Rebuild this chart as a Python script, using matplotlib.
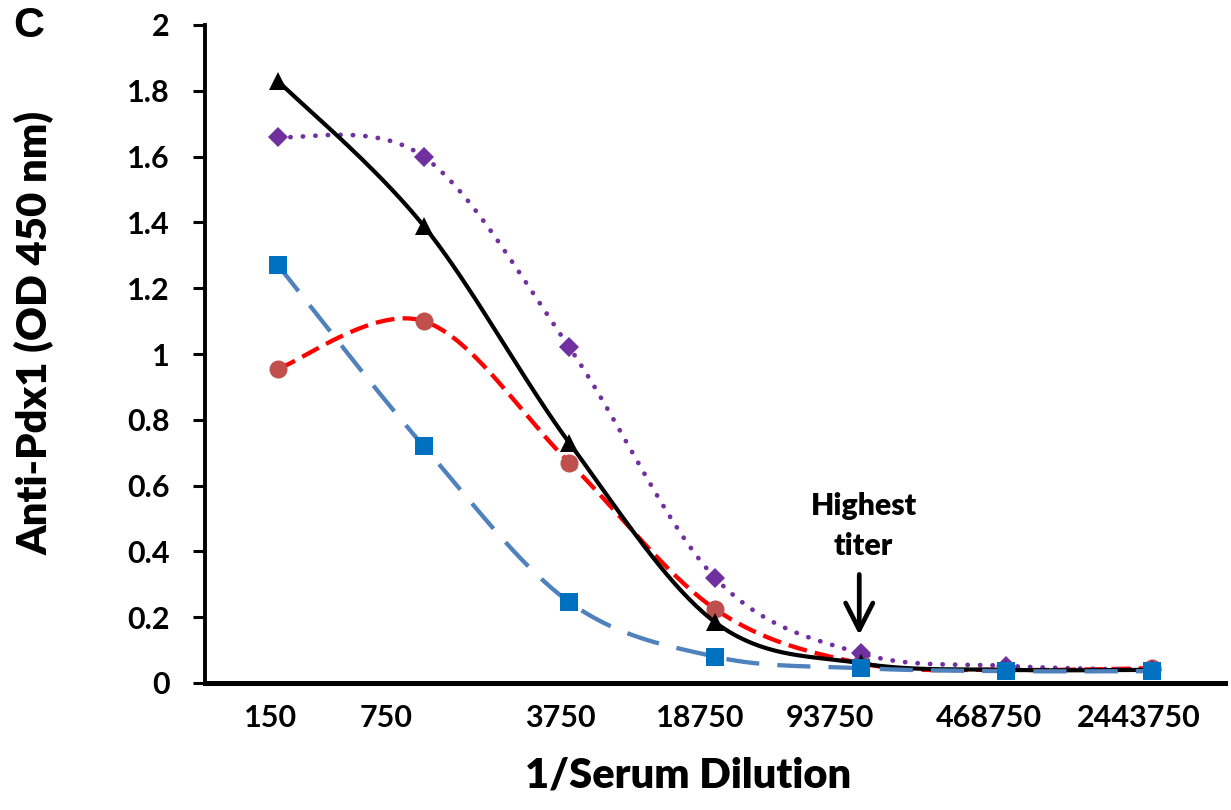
import matplotlib
matplotlib.use('Agg')
import matplotlib.pyplot as plt
import numpy as np

# 数据
dilutions = ["150", "750", "3750", "18750", "93750", "468750", "2443750"]
black_tri = [1.83, 1.39, 0.73, 0.185, 0.06, 0.04, 0.04]
purple_dia = [1.66, 1.60, 1.02, 0.32, 0.09, 0.052, 0.04]
red_circ = [0.955, 1.10, 0.67, 0.225, 0.06, 0.04, 0.045]
blue_sq = [1.27, 0.72, 0.246, 0.08, 0.045, 0.036, 0.036]

# 刻度标签相对数据点的水平偏移 (类别单位, 原图手动放置)
label_offset = [-0.05, -0.26, -0.06, -0.10, -0.21, -0.12, -0.09]


def smooth(xs, ys, n=40):
    # Excel 风格平滑曲线 (Bezier, 控制点 = 邻点差/6)
    p = np.column_stack([xs, ys]).astype(float)
    pts = []
    for i in range(len(p) - 1):
        p0 = p[i - 1] if i > 0 else p[i]
        p1, p2 = p[i], p[i + 1]
        p3 = p[i + 2] if i + 2 < len(p) else p[i + 1]
        c1 = p1 + (p2 - p0) / 6
        c2 = p2 - (p3 - p1) / 6
        t = np.linspace(0, 1, n)[:, None]
        seg = (1-t)**3*p1 + 3*(1-t)**2*t*c1 + 3*(1-t)*t**2*c2 + t**3*p2
        pts.append(seg if i == 0 else seg[1:])
    pts = np.vstack(pts)
    return pts[:, 0], pts[:, 1]


W, H = 1231, 810
x = np.arange(len(dilutions)) + 0.5

fig = plt.figure(figsize=(W/100, H/100), dpi=100)
ax = fig.add_axes([205/W, 127/H, 1020/W, 658/H])

# 绘制顺序: 红, 紫, 黑, 蓝 (蓝色在最上层)
series = [
    (red_circ, "#FF0000", (0, (4.4, 1.9)), "o", "#C0504D", 13, 3.1),
    (purple_dia, "#7030A0", (0, (0.05, 2.6)), "D", "#7030A0", 10.5, 3.4),
    (black_tri, "black", "-", "^", "black", 13.5, 3.0),
    (blue_sq, "#4F81BD", (0, (7.7, 4.2)), "s", "#0070C0", 12.5, 3.1),
]
for ys, lc, ls, mk, mc, ms, lw in series:
    sx, sy = smooth(x, ys)
    ax.plot(sx, sy, color=lc, linestyle=ls, linewidth=lw,
            solid_capstyle='round', dash_capstyle='round' if mk == "D" else 'butt')
    ax.plot(x, ys, linestyle='none', marker=mk, color=mc, markersize=ms,
            markeredgewidth=0)

ax.set_xlim(0, len(dilutions))
ax.set_ylim(0, 2)
ax.set_yticks(np.arange(0, 2.01, 0.2))
ax.set_yticklabels(["0", "0.2", "0.4", "0.6", "0.8", "1", "1.2", "1.4", "1.6", "1.8", "2"])
ax.set_xticks(x + np.array(label_offset))
ax.set_xticklabels(dilutions)
ax.tick_params(axis='y', direction='out', length=8.6, width=2.2, labelsize=22, pad=17)
ax.tick_params(axis='x', length=0, labelsize=22, pad=15)
for lbl in ax.get_xticklabels() + ax.get_yticklabels():
    lbl.set_fontweight('bold')
    lbl.set_family('Lato')

ax.spines['top'].set_visible(False)
ax.spines['right'].set_visible(False)
ax.spines['left'].set_linewidth(2.8)
ax.spines['bottom'].set_linewidth(3.6)

renderer = fig.canvas.get_renderer()


def fit(t, target, vertical=False):
    # 按目标像素长度调整字号
    bb = t.get_window_extent(renderer)
    size = bb.height if vertical else bb.width
    t.set_fontsize(t.get_fontsize() * target / size)


xl = fig.text(688/W, 1 - 788/H, "1/Serum Dilution", fontsize=30, fontweight='heavy',
              family='Lato', ha='center', va='baseline')
fit(xl, 326)
yl = fig.text(35/W, 1 - 333/H, "Anti-Pdx1 (OD 450 nm)", fontsize=30, fontweight='heavy',
              family='Lato', ha='center', va='center', rotation=90)
fit(yl, 444, vertical=True)

t1 = ax.text(x[4] + 0.02, 0.511, "Highest", ha='center', va='baseline', fontsize=22,
             fontweight='heavy', family='Lato')
fit(t1, 106)
ax.text(x[4] + 0.02, 0.389, "titer", ha='center', va='baseline', fontsize=t1.get_fontsize(),
        fontweight='heavy', family='Lato')
ax.annotate("", xy=(x[4] - 0.01, 0.146), xytext=(x[4] - 0.01, 0.33),
            arrowprops=dict(arrowstyle='->, head_length=0.55, head_width=0.28', lw=3.4,
                            color='black', mutation_scale=35, shrinkA=0, shrinkB=0))

fig.text(29/W, 1 - 26/H, "C", fontsize=31, fontweight='bold', family='Liberation Sans',
         va='center', ha='center')

plt.savefig("out.png", dpi=100)
plt.close()
